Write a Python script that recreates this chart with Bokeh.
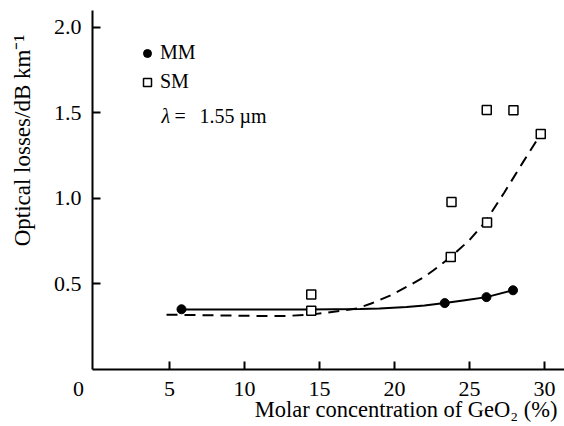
import math
from bokeh.plotting import figure
from bokeh.models import Range1d, FixedTicker, Label, Legend, LegendItem
from bokeh.embed import file_html
from bokeh.resources import INLINE

mm_x = [5.8, 23.35, 26.13, 27.9]
mm_y = [0.350, 0.386, 0.421, 0.461]
sm_x = [14.45, 14.45, 23.8, 23.75, 26.15, 26.17, 27.93, 29.75]
sm_y = [0.437, 0.342, 0.977, 0.656, 1.516, 0.857, 1.514, 1.375]

# Fitted curves
mm_fit_x = [5.8, 8, 10, 12, 14, 16, 17.7, 19, 20.8, 22, 23.35, 24.7, 26.13, 27.9]
mm_fit_y = [0.349, 0.349, 0.349, 0.349, 0.349, 0.350, 0.351, 0.355, 0.363, 0.372, 0.386, 0.403, 0.421, 0.461]
sm_fit_x = [4.8, 7, 9, 11, 12.5, 14, 14.8, 16.6, 17.5, 18.4, 19.7, 21, 22, 22.6, 23.75, 25, 26, 27.3, 28.6, 29.75]
sm_fit_y = [0.318, 0.316, 0.313, 0.311, 0.310, 0.316, 0.323, 0.343, 0.355, 0.382, 0.43, 0.49, 0.54, 0.578, 0.656, 0.755, 0.855, 1.03, 1.215, 1.375]

x_ticks = [5, 10, 15, 20, 25, 30]
y_ticks = [0.5, 1.0, 1.5, 2.0]
y_tick_labels = {0.5: "0.5", 1.0: "1.0", 1.5: "1.5", 2.0: "2.0"}

FONT = "Liberation Serif"

p = figure(width=564, height=426, output_backend="svg", toolbar_location=None,
           x_range=Range1d(-6.2667, 31.333), y_range=Range1d(-0.3358, 2.1562),
           min_border=0)
p.outline_line_color = None
p.grid.visible = False
p.background_fill_color = "white"

xa, ya = p.xaxis[0], p.yaxis[0]
xa.fixed_location = 0
xa.bounds = (-0.133, 31.333)
ya.fixed_location = -0.133
ya.bounds = (0, 2.1)

for ax in (xa, ya):
    ax.axis_line_width = 2
    ax.axis_line_color = "black"
    ax.major_tick_line_width = 2
    ax.major_tick_line_color = "black"
    ax.major_tick_in = 8
    ax.major_tick_out = 0
    ax.minor_tick_line_color = None
    ax.major_label_text_font = FONT
    ax.major_label_text_font_size = "22px"
    ax.major_label_text_color = "black"

xa.ticker = FixedTicker(ticks=x_ticks)
ya.ticker = FixedTicker(ticks=y_ticks)
ya.major_label_overrides = y_tick_labels
xa.major_label_standoff = 13
ya.major_label_standoff = 11

p.line(mm_fit_x, mm_fit_y, line_color="black", line_width=2)
p.line(sm_fit_x, sm_fit_y, line_color="black", line_width=2, line_dash="11 7")

r_mm = p.scatter(mm_x, mm_y, marker="circle", size=9, fill_color="black", line_color="black")
r_sm = p.scatter(sm_x, sm_y, marker="square", size=9, fill_color="white", line_color="black", line_width=1.5)

legend = Legend(items=[LegendItem(label="MM", renderers=[r_mm]), LegendItem(label="SM", renderers=[r_sm])],
                location=(137, 333), background_fill_alpha=0, border_line_alpha=0,
                padding=0, margin=0, spacing=6, label_height=20, glyph_height=20, glyph_width=20,
                label_standoff=3, label_text_font=FONT, label_text_font_size="20px",
                label_text_color="black")
p.add_layout(legend)

def add_text(x, y, text, size="20px", align="left", angle=0.0, style="normal"):
    p.add_layout(Label(x=x, y=y, text=text, text_font=FONT, text_font_size=size,
                       text_font_style=style, text_color="black", angle=angle,
                       text_baseline="middle", text_align=align))

add_text(4.47, 1.483, "λ", style="italic")
add_text(5.33, 1.483, "=")
add_text(7.0, 1.483, "1.55 µm")
add_text(-1.067, -0.114, "0", size="22px", align="center")
add_text(-4.8, 1.337, "Optical losses/dB km⁻¹", size="23px", align="center", angle=math.pi / 2)
add_text(30.87, -0.236, "Molar concentration of GeO₂ (%)", size="22.5px", align="right")

open("out.html", "w").write(file_html(p, INLINE))
